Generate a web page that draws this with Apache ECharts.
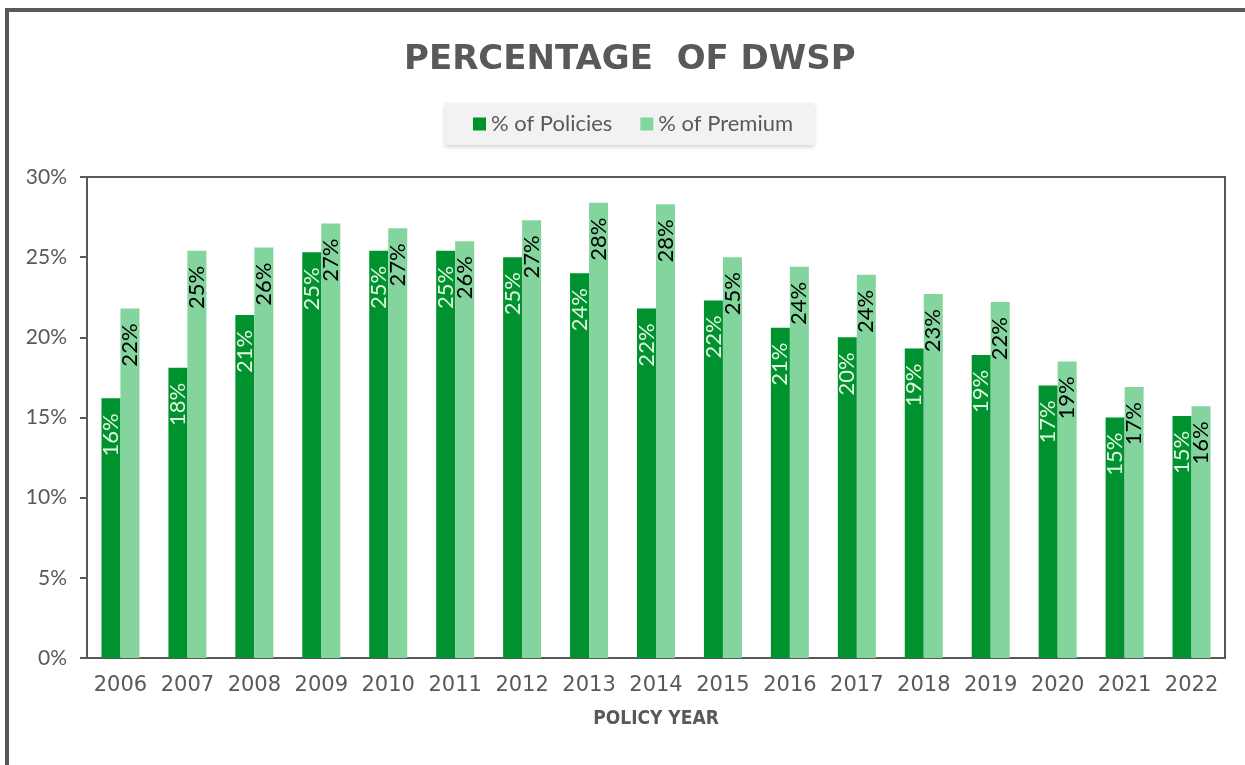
<!DOCTYPE html>
<html>
<head>
<meta charset="utf-8">
<script src="https://cdn.jsdelivr.net/npm/echarts@6/dist/echarts.min.js"></script>
<style>
  html, body { margin: 0; padding: 0; background: #fff; }
  #chart { width: 1245px; height: 765px; }
</style>
</head>
<body>
<div id="chart"></div>
<script>
// policy years on the x axis
const years = ['2006', '2007', '2008', '2009', '2010', '2011', '2012', '2013', '2014',
    '2015', '2016', '2017', '2018', '2019', '2020', '2021', '2022'];
// values in percent
const policies = [16.2, 18.1, 21.4, 25.3, 25.4, 25.4, 25.0, 24.0, 21.8, 22.3, 20.6, 20.0, 19.3, 18.9, 17.0, 15.0, 15.1];
const premium = [21.8, 25.4, 25.6, 27.1, 26.8, 26.0, 27.3, 28.4, 28.3, 25.0, 24.4, 23.9, 22.7, 22.2, 18.5, 16.9, 15.7];

const gray = '#595959';

function barLabel(color) {
    return {
        show: true,
        position: 'insideTop',
        distance: 15,
        rotate: 90,
        align: 'right',
        verticalAlign: 'middle',
        color: color,
        fontFamily: 'Lato',
        fontSize: 22,
        formatter: (p) => Math.round(p.value) + '%',
    };
}

const chart = echarts.init(document.getElementById('chart'));
chart.setOption({
    animation: false,
    title: {
        text: 'PERCENTAGE  OF DWSP',
        left: 399,
        top: 38,
        textStyle: { color: gray, fontFamily: 'DejaVu Sans', fontWeight: 'bold', fontSize: 34 },
    },
    legend: {
        data: ['% of Policies', '% of Premium'],
        left: 445,
        top: 103,
        padding: [10, 21, 10, 28],
        itemWidth: 13,
        itemHeight: 13,
        itemGap: 28,
        icon: 'rect',
        backgroundColor: '#f2f2f2',
        shadowBlur: 4,
        shadowColor: 'rgba(0,0,0,0.18)',
        shadowOffsetY: 2,
        textStyle: { color: gray, fontFamily: 'Lato', fontSize: 22 },
    },
    grid: {
        left: 87,
        right: 20,
        top: 177,
        bottom: 107,
        show: true,
        borderColor: gray,
        borderWidth: 2,
    },
    xAxis: {
        type: 'category',
        data: years,
        name: 'POLICY YEAR',
        nameLocation: 'middle',
        nameGap: 52,
        nameTextStyle: { color: gray, fontFamily: 'DejaVu Sans Condensed', fontWeight: 'bold', fontSize: 19 },
        axisLine: { lineStyle: { color: gray, width: 2 } },
        axisTick: { show: false },
        axisLabel: { color: gray, fontFamily: 'DejaVu Sans', fontSize: 21, margin: 17, interval: 0 },
    },
    yAxis: {
        type: 'value',
        min: 0,
        max: 30,
        interval: 5,
        axisLine: { show: true, lineStyle: { color: gray, width: 2 } },
        axisTick: { show: true, length: 7, lineStyle: { color: gray, width: 2 } },
        splitLine: { show: false },
        axisLabel: { color: gray, fontFamily: 'Lato', fontSize: 21, margin: 20, formatter: '{value}%' },
    },
    series: [
        {
            name: '% of Policies',
            type: 'bar',
            data: policies,
            barWidth: 19,
            barGap: '0%',
            itemStyle: { color: '#00922e' },
            label: barLabel('#e2f5e0'),
        },
        {
            name: '% of Premium',
            type: 'bar',
            data: premium,
            barWidth: 19,
            itemStyle: { color: '#84d49e' },
            label: barLabel('#000'),
        },
    ],
    graphic: [
        { type: 'line', shape: { x1: 5, y1: 10, x2: 1245, y2: 10 }, style: { stroke: gray, lineWidth: 4 } },
        { type: 'line', shape: { x1: 7, y1: 8, x2: 7, y2: 765 }, style: { stroke: gray, lineWidth: 4 } },
    ],
});
</script>
</body>
</html>
